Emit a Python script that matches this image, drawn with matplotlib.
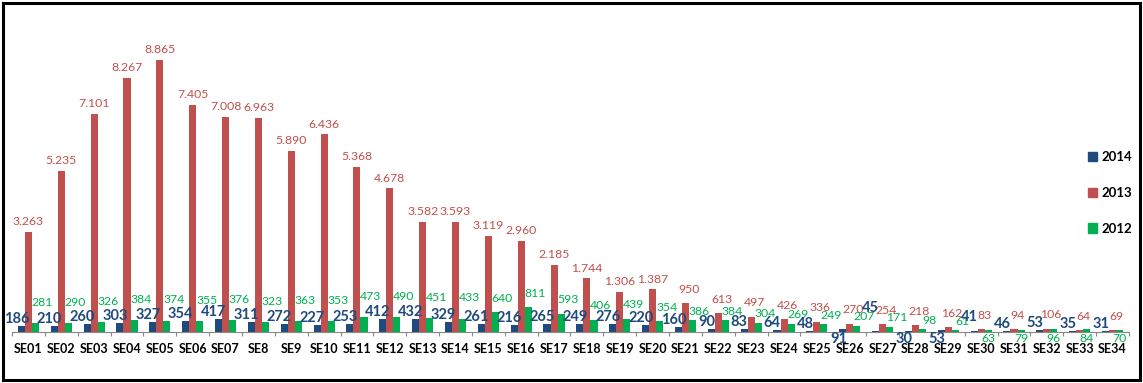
import matplotlib.pyplot as plt
import numpy as np
from matplotlib.patches import Patch, Rectangle

# --- datos ---
semanas = ["SE01", "SE02", "SE03", "SE04", "SE05", "SE06", "SE07", "SE8", "SE9", "SE10",
           "SE11", "SE12", "SE13", "SE14", "SE15", "SE16", "SE17", "SE18", "SE19", "SE20",
           "SE21", "SE22", "SE23", "SE24", "SE25", "SE26", "SE27", "SE28", "SE29", "SE30",
           "SE31", "SE32", "SE33", "SE34"]
casos_2014 = [186, 210, 260, 303, 327, 354, 417, 311, 272, 227, 253, 412, 432, 329, 261, 216, 265,
              249, 276, 220, 160, 90, 83, 64, 48, 91, 45, 30, 53, 41, 46, 53, 35, 31]
casos_2013 = [3263, 5235, 7101, 8267, 8865, 7405, 7008, 6963, 5890, 6436, 5368, 4678, 3582, 3593,
              3119, 2960, 2185, 1744, 1306, 1387, 950, 613, 497, 426, 336, 270, 254, 218, 162, 83,
              94, 106, 64, 69]
casos_2012 = [281, 290, 326, 384, 374, 355, 376, 323, 363, 353, 473, 490, 451, 433, 640, 811, 593,
              406, 439, 354, 386, 384, 304, 269, 249, 207, 171, 98, 61, 63, 79, 96, 84, 70]

# etiquetas que en el original se movieron a mano
azul_abajo = ["SE26", "SE28", "SE29"]
azul_arriba = {"SE27": 11, "SE30": 5}
verde_abajo = ["SE30", "SE31", "SE32", "SE33", "SE34"]

AZUL = "#1F4A7E"
ROJO = "#C0504D"
VERDE = "#00B050"
FUENTE = "Lato"


def miles(v):
    # separador de miles con punto
    return f"{v:,}".replace(",", ".")


def subida_verde(i):
    # en el original las etiquetas verdes van mas altas al principio
    if i < 14:
        return 11
    if i < 20:
        return 6
    return 2.5


fig = plt.figure(figsize=(11.43, 3.83), dpi=100)
ax = fig.add_axes([12 / 1143, 51 / 383, 1117 / 1143, 307 / 383])

x = np.arange(len(semanas))
w = 0.215
ax.bar(x - w, casos_2014, w, color=AZUL, label="2014")
ax.bar(x, casos_2013, w, color=ROJO, label="2013")
ax.bar(x + w, casos_2012, w, color=VERDE, label="2012")

ax.set_xlim(-0.5, len(semanas) - 0.5)
ax.set_ylim(0, 10000)

# etiquetas de datos
for i, sem in enumerate(semanas):
    # 2014
    if sem in azul_abajo:
        ax.annotate(str(casos_2014[i]), (x[i] - w, 0), xytext=(-3, -5), textcoords="offset points",
                    ha="center", va="center", color=AZUL, fontsize=10.5, fontweight="bold", family=FUENTE)
    else:
        dy = azul_arriba.get(sem, 0)
        ax.annotate(str(casos_2014[i]), (x[i] - w, casos_2014[i]), xytext=(-3.5, dy), textcoords="offset points",
                    ha="center", va="bottom", color=AZUL, fontsize=10.5, fontweight="bold", family=FUENTE)
    # 2013
    dx, dy = (2.5, 6) if i >= 20 else (0, 3.5)
    ax.annotate(miles(casos_2013[i]), (x[i], casos_2013[i]), xytext=(dx, dy), textcoords="offset points",
                ha="center", va="bottom", color=ROJO, fontsize=8.8, family=FUENTE)
    # 2012
    if sem in verde_abajo:
        ax.annotate(str(casos_2012[i]), (x[i] + w, 0), xytext=(0, -5), textcoords="offset points",
                    ha="center", va="center", color=VERDE, fontsize=8.8, family=FUENTE)
    else:
        ax.annotate(str(casos_2012[i]), (x[i] + w, casos_2012[i]), xytext=(5, subida_verde(i)),
                    textcoords="offset points", ha="center", va="bottom", color=VERDE, fontsize=8.8,
                    family=FUENTE)

# ejes
for lado in ["top", "right", "left"]:
    ax.spines[lado].set_visible(False)
ax.spines["bottom"].set_color("#888888")
ax.spines["bottom"].set_linewidth(0.8)
ax.set_yticks([])
ax.set_xticks(x)
ax.set_xticklabels(semanas, fontsize=9, fontweight="bold", family=FUENTE)
ax.set_xticks(np.arange(-0.5, len(semanas)), minor=True)
ax.tick_params(axis="x", which="major", length=0, pad=8)
ax.tick_params(axis="x", which="minor", length=3, color="#888888", width=0.8)

# leyenda
handles = [Patch(color=AZUL), Patch(color=ROJO), Patch(color=VERDE)]
fig.legend(handles, ["2014", "2013", "2012"], loc="upper left",
           bbox_to_anchor=(1088 / 1143, 1 - 151 / 383), frameon=False,
           prop={"family": FUENTE, "weight": "bold", "size": 9.5},
           handlelength=0.7, handleheight=0.7, handletextpad=0.35,
           labelspacing=1.8, borderpad=0, borderaxespad=0)

# marco exterior
fig.patches.append(Rectangle((3 / 1143, 3 / 383), 1137 / 1143, 377 / 383, transform=fig.transFigure,
                             fill=False, edgecolor="black", linewidth=2.2))

plt.savefig("out.png", dpi=100)
